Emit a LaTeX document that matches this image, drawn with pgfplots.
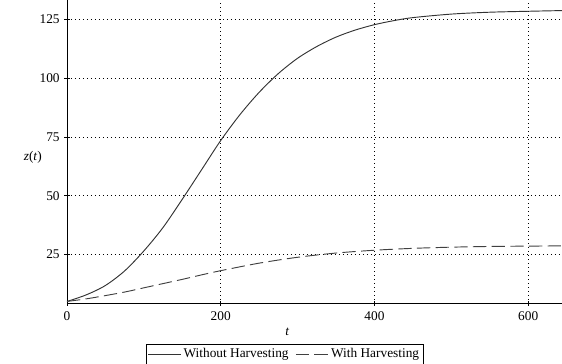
\documentclass[border=0pt]{standalone}
\usepackage{fontspec}
\setmainfont{Liberation Serif}
\usepackage{pgfplots}
\pgfplotsset{compat=1.18}
\begin{document}
\fontsize{10pt}{12pt}\selectfont
\begin{tikzpicture}
\useasboundingbox (-50.25pt,-44.8pt) rectangle (371.25pt,227.5pt);
\begin{axis}[
  at={(0,0)}, anchor=origin,
  scale only axis,
  width=371.25pt, height=227.5pt,
  xmin=0, xmax=644, ymin=4.2, ymax=133.3,
  axis lines*=left,
  axis line style={black, line width=0.6pt},
  xtick={0,200,400,600},
  ytick={25,50,75,100,125},
  tick align=center,
  major tick length=4pt,
  tick style={black, line width=0.5pt},
  grid=major,
  grid style={black, line width=0.6pt, dash pattern=on 0.6pt off 2.4pt},
  /pgf/number format/assume math mode=true,
  ticklabel style={font=\fontsize{10pt}{12pt}\selectfont},
  xticklabel style={yshift=-1pt},
  xlabel={\textit{t}},
  xlabel style={at={(axis description cs:0.445,-0.095)}, anchor=center},
  ylabel={\textit{z}(\textit{t})},
  ylabel style={rotate=-90, at={(axis description cs:-0.069,0.482)}, anchor=center},
  legend columns=2,
  legend style={at={(axis description cs:0.44,-0.168)}, anchor=center, draw=black, line width=0.5pt, inner sep=1pt, font=\fontsize{10pt}{12pt}\selectfont, /tikz/every even column/.append style={column sep=3pt}},
  legend image code/.code={\draw[#1] (0cm,0cm) -- (0.85cm,0cm);},
  clip=false,
]
\addplot[black!80, line width=0.7pt, smooth] coordinates {
(0,5) (25,7.8) (50,11.8) (75,18) (100,26.5) (125,36.5) (150,48.5) (175,61) (200,73.5) (225,84.5) (250,94) (275,102) (300,108.5) (325,113.5) (350,117.5) (375,120.5) (400,122.8) (425,124.5) (450,125.8) (500,127.3) (550,128.1) (600,128.5) (644,128.8)
};
\addlegendentry{Without Harvesting}
\addplot[black!75, line width=0.7pt, dash pattern=on 10pt off 4pt, smooth] coordinates {
(0,5) (25,6.1) (50,7.5) (75,9.0) (100,10.8) (125,12.6) (150,14.4) (175,16.3) (200,18.1) (250,21.3) (300,23.8) (350,25.6) (400,26.8) (450,27.6) (500,28.1) (550,28.4) (600,28.55) (644,28.65)
};
\addlegendentry{With Harvesting}
\end{axis}
\end{tikzpicture}
\end{document}
